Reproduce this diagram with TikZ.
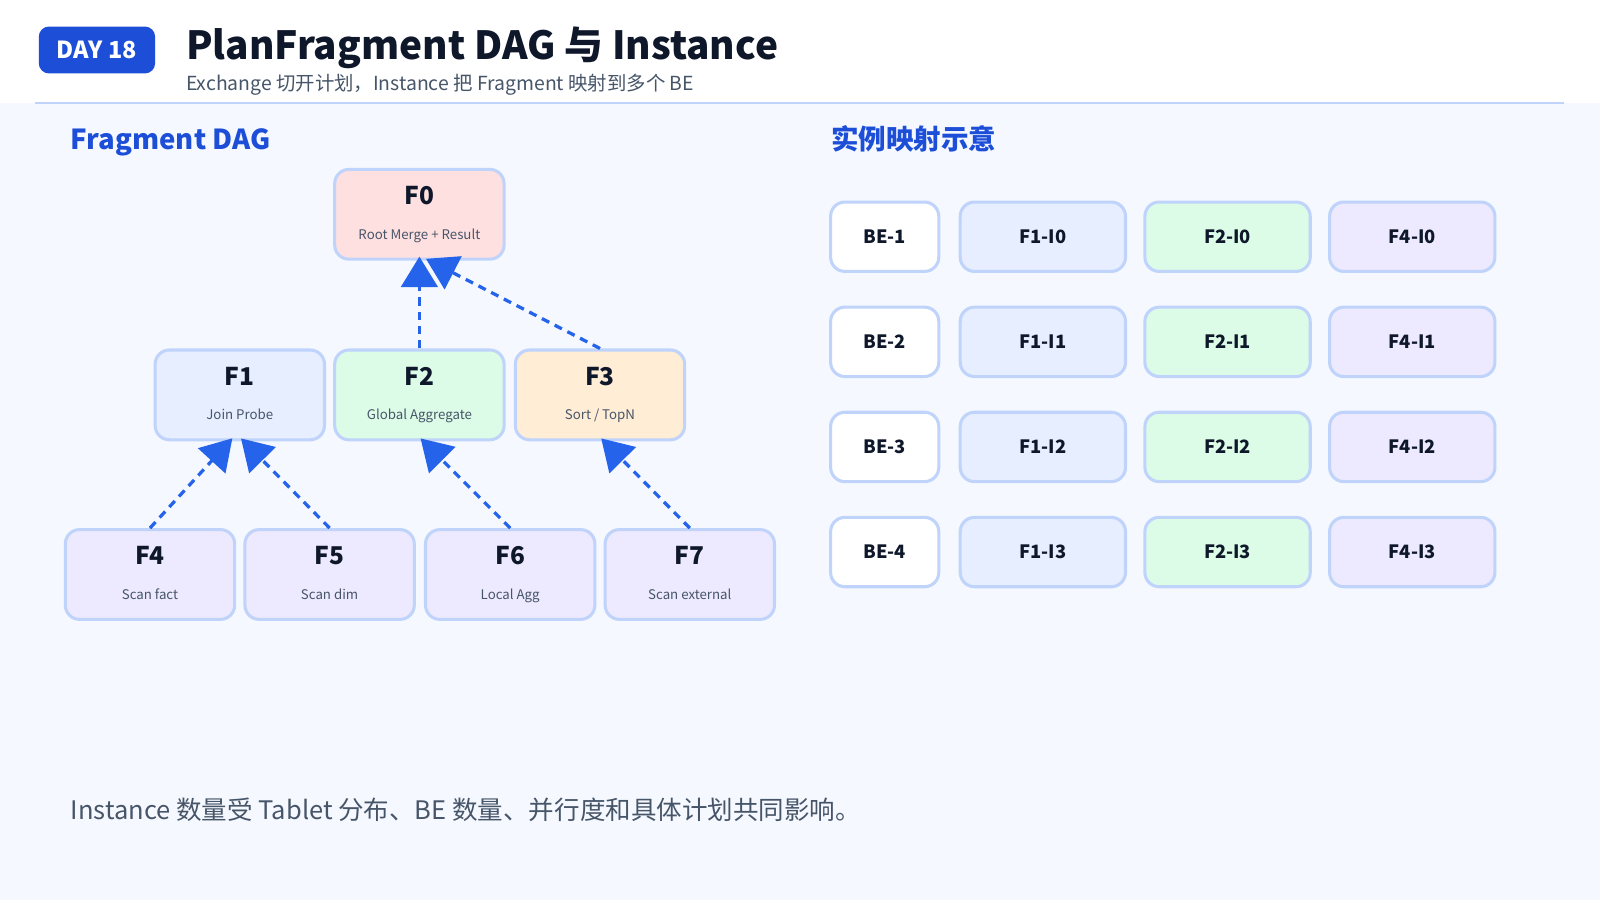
\documentclass[tikz,border=0pt]{standalone}
\usepackage{fontspec}
\setmainfont{Noto Sans CJK SC}
\usetikzlibrary{arrows.meta}
\definecolor{pagebg}{HTML}{F5F9FF}
\definecolor{brand}{HTML}{1D4ED8}
\definecolor{ink}{HTML}{0F172A}
\definecolor{muted}{HTML}{475569}
\definecolor{edgeblue}{HTML}{2563EB}
\definecolor{boxline}{HTML}{BFD3FB}
\colorlet{rootfill}{red!12}
\definecolor{joinfill}{HTML}{E6EEFF}
\definecolor{aggfill}{HTML}{DCFCE7}
\definecolor{sortfill}{HTML}{FFEDD5}
\definecolor{scanfill}{HTML}{EDE9FE}
\tikzset{
    frag/.style = {rectangle, rounded corners=7pt, draw=boxline, line width=1.5pt,
        minimum width=83pt, minimum height=44pt, inner sep=0pt},
    inst/.style = {rectangle, rounded corners=7pt, draw=boxline, line width=1.5pt,
        minimum width=81pt, minimum height=34pt, inner sep=0pt,
        font=\fontsize{9}{10}\selectfont\bfseries, text=ink},
    flow/.style = {edgeblue, line width=1.6pt, dash pattern=on 4pt off 3pt, shorten >=-2pt,
        -{Triangle[length=15pt, width=18pt]}}
}
\newcommand{\fragtext}[2]{\fontsize{12}{12}\selectfont\bfseries\color{ink}\vphantom{Fg}#1\\[5pt]\fontsize{6.5}{7}\selectfont\mdseries\color{muted}\vphantom{Fg}#2}

\begin{document}
\begin{tikzpicture}[x=0.5pt, y=-0.5pt]
    % page and header
    \useasboundingbox (0, 0) rectangle (1568, 882);
    \fill[pagebg] (0, 0) rectangle (1568, 882);
    \fill[white] (0, 0) rectangle (1568, 101);
    \draw[boxline, line width=0.8pt] (34, 101) -- (1533, 101);
    \node[fill=brand, rounded corners=5pt, minimum width=57pt, minimum height=23pt,
        text=white, font=\fontsize{11.5}{12}\selectfont\bfseries] (badge) at (95, 49) {DAY 18};
    \node[anchor=base west, inner sep=0pt, text=ink, font=\fontsize{19}{20}\selectfont\bfseries]
        (title) at (182, 58) {PlanFragment DAG 与 Instance};
    \node[anchor=base west, inner sep=0pt, text=muted, font=\fontsize{9.5}{10}\selectfont]
        (subtitle) at (182, 89) {Exchange 切开计划，Instance 把 Fragment 映射到多个 BE};
    % section titles
    \node[anchor=base west, inner sep=0pt, text=brand, font=\fontsize{13.5}{14}\selectfont\bfseries]
        (dagtitle) at (69, 147) {Fragment DAG};
    \node[anchor=base west, inner sep=0pt, text=brand, font=\fontsize{13.5}{14}\selectfont\bfseries]
        (maptitle) at (814, 147) {实例映射示意};
    % fragments
    \node[frag, fill=rootfill, align=center] (f0) at (411, 210) {\fragtext{F0}{Root Merge + Result}};
    \node[frag, fill=joinfill, align=center] (f1) at (235, 387) {\fragtext{F1}{Join Probe}};
    \node[frag, fill=aggfill, align=center] (f2) at (411, 387) {\fragtext{F2}{Global Aggregate}};
    \node[frag, fill=sortfill, align=center] (f3) at (588, 387) {\fragtext{F3}{Sort / TopN}};
    \node[frag, fill=scanfill, align=center] (f4) at (147, 563) {\fragtext{F4}{Scan fact}};
    \node[frag, fill=scanfill, align=center] (f5) at (323, 563) {\fragtext{F5}{Scan dim}};
    \node[frag, fill=scanfill, align=center] (f6) at (500, 563) {\fragtext{F6}{Local Agg}};
    \node[frag, fill=scanfill, align=center] (f7) at (676, 563) {\fragtext{F7}{Scan external}};
    % exchanges
    \draw[flow] (f2.north) -- (f0.south);
    \draw[flow] (f3.north) -- ([xshift=5pt]f0.south);
    \draw[flow] (f4.north) -- ([xshift=-5pt]f1.south);
    \draw[flow] (f5.north) -- ([xshift=2pt]f1.south);
    \draw[flow] (f6.north) -- ([xshift=2pt]f2.south);
    \draw[flow] (f7.north) -- ([xshift=2pt]f3.south);
    % instance grid
    \foreach \i/\y in {1/232, 2/335, 3/438, 4/541} {
        \pgfmathtruncatemacro{\k}{\i-1}
        \node[inst, fill=white, minimum width=53pt] (be\i) at (867, \y) {BE-\i};
        \node[inst, fill=joinfill] (fa\i) at (1022, \y) {F1-I\k};
        \node[inst, fill=aggfill] (fb\i) at (1203, \y) {F2-I\k};
        \node[inst, fill=scanfill] (fc\i) at (1384, \y) {F4-I\k};
    }
    % footer
    \node[anchor=base west, inner sep=0pt, text=muted, font=\fontsize{12.5}{13}\selectfont]
        (note) at (69, 803) {Instance 数量受 Tablet 分布、BE 数量、并行度和具体计划共同影响。};
\end{tikzpicture}
\end{document}
